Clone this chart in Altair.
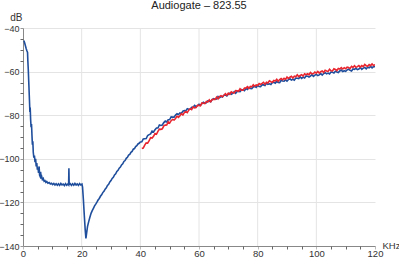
import altair as alt
import pandas as pd

# ---- data ----
blue_lo_x = [0.3, 0.5, 0.8, 1.1, 1.3, 1.55, 1.65, 1.8, 2.0, 2.2, 2.35, 2.45, 2.6, 2.75, 2.9, 3.05, 3.2, 3.35,
             3.5, 3.7, 3.9, 4.1, 4.3, 4.5, 4.7, 4.9, 5.1, 5.3, 5.5, 5.65, 5.8, 6.0, 6.2, 6.4, 6.6, 6.9, 7.2,
             7.5, 7.8, 8.1, 8.5, 8.9, 9.3, 9.7, 10.1, 10.5, 10.9, 11.3, 11.7, 12.1, 12.5, 12.9, 13.3, 13.7,
             14.1, 14.5, 14.9, 15.3, 15.55, 15.65, 15.75, 16.1, 16.5, 16.9, 17.3, 17.7, 18.1, 18.5, 18.9,
             19.3, 19.7, 20.1, 20.3, 20.6, 20.9, 21.2, 21.45, 21.7, 22.0, 22.4, 22.8, 23.2, 23.6, 24.0, 24.4,
             24.8, 25.2, 25.6, 26.0, 26.4, 26.8, 27.2, 27.6, 28.0, 28.4, 28.8, 29.2, 29.6, 30.0, 30.4, 30.8,
             31.2, 31.6, 32.0, 32.4, 32.8, 33.2, 33.6, 34.0, 34.4, 34.8, 35.2, 35.6, 36.0, 36.4, 36.8, 37.2,
             37.6, 38.0, 38.4, 38.8, 39.2, 39.6]
blue_lo_y = [-45.8, -46.5, -48.0, -49.5, -50.3, -51.2, -55.0, -59.0, -66.0, -73.0, -78.5, -76.5, -82.0, -85.5,
             -84.0, -89.0, -93.5, -92.0, -97.0, -99.5, -98.5, -101.5, -100.0, -103.5, -102.0, -105.0, -104.0,
             -106.5, -103.5, -107.5, -108.0, -106.0, -109.0, -108.3, -109.5, -109.0, -110.3, -110.0, -110.8,
             -110.4, -111.2, -110.9, -111.5, -111.2, -111.8, -111.3, -112.0, -111.4, -112.1, -111.5, -112.2,
             -111.3, -112.0, -111.6, -112.3, -111.4, -112.1, -111.5, -111.9, -104.3, -111.8, -111.4, -112.2,
             -111.5, -112.1, -111.3, -112.0, -111.5, -112.2, -111.4, -112.0, -111.6, -113.0, -119.0, -126.0,
             -132.5, -136.5, -134.0, -131.0, -128.8, -126.8, -125.0, -123.8, -122.7, -121.6, -120.8, -119.9,
             -118.9, -118.2, -117.2, -116.5, -115.5, -114.9, -113.9, -113.3, -112.2, -111.7, -110.6, -110.0,
             -109.0, -108.5, -107.4, -106.9, -105.8, -105.3, -104.3, -103.8, -102.8, -102.3, -101.2, -100.8,
             -99.8, -99.3, -98.3, -98.0, -97.0, -96.6, -95.6, -95.3, -94.4, -94.0, -93.2, -92.9]

# 40 .. 120 kHz, every 0.5 kHz
blue_hi_y = [-92.3, -92.2, -90.9, -90.8, -90.7, -89.3, -88.9, -88.6, -87.3, -87.7, -86.7, -85.9, -85.9, -84.5,
             -84.7, -84.5, -83.4, -82.7, -83.1, -82.1,
             -82.0, -80.8, -80.9, -80.9, -79.9, -79.35, -79.7, -78.95, -79.2, -78.1, -77.9, -78.0, -77.0, -77.3,
             -77.3, -76.35, -76.4, -75.5, -76.1, -75.65,
             -75.0, -75.45, -74.7, -74.05, -74.5, -74.35, -73.4, -73.55, -73.8, -72.85, -72.4, -72.65, -72.6,
             -71.45, -72.0, -71.45, -71.7, -70.8, -70.7, -71.2,
             -70.4, -69.9, -70.4, -70.0, -69.2, -69.9, -69.1, -69.1, -69.2, -68.3, -68.4, -68.8, -67.8, -68.15,
             -67.3, -67.7, -67.8, -67.05, -66.8, -67.25,
             -66.4, -66.85, -66.9, -66.05, -66.1, -66.35, -65.4, -65.85, -65.6, -65.95, -65.0, -64.95, -65.3,
             -64.5, -65.0, -65.05, -64.0, -64.35, -64.4, -63.8,
             -64.4, -63.65, -63.3, -63.9, -63.5, -63.9, -63.0, -63.05, -63.2, -62.4, -63.1, -62.55, -62.9, -62.0,
             -62.1, -62.5, -62.1, -61.45, -62.2, -61.6,
             -61.3, -61.8, -61.5, -60.9, -61.6, -60.9, -60.5, -61.05, -60.7, -61.1, -60.2, -60.3, -60.6, -59.8,
             -60.2, -60.4, -59.7, -59.3, -60.0, -59.6,
             -59.9, -59.2, -58.9, -59.45, -59.7, -58.8, -59.0, -58.5, -59.1, -58.8, -58.1, -58.95, -58.4, -58.1,
             -58.7, -58.0, -58.3, -57.65, -58.3, -57.7, -57.8]
blue_hi_x = [40 + 0.5 * i for i in range(len(blue_hi_y))]

# 40.5 .. 120 kHz, every 0.5 kHz
red_y = [-95.2, -95.1, -93.7, -92.7, -92.85, -91.7, -90.35, -90.5, -89.7, -88.4, -88.75, -87.4, -86.4, -86.5,
         -86.25, -84.9, -84.55, -84.5, -83.0,
         -83.6, -82.5, -81.9, -82.2, -81.5, -80.45, -81.0, -80.3, -79.3, -79.9, -78.8, -78.3, -78.8, -77.7,
         -77.0, -77.4, -76.2, -76.65, -76.5, -75.5,
         -75.5, -75.7, -74.4, -74.5, -74.7, -73.75, -74.0, -72.95, -73.8, -72.8, -72.7, -72.75, -71.7, -72.55,
         -71.5, -71.05, -71.5, -70.85, -70.1, -70.85,
         -69.9, -70.4, -69.3, -69.65, -69.8, -68.7, -68.8, -69.0, -67.9, -68.5, -68.5, -67.55, -67.6, -66.9,
         -67.7, -66.8, -67.0, -66.0, -66.7, -66.1,
         -66.4, -65.45, -65.9, -65.45, -64.9, -65.75, -64.9, -65.25, -64.2, -64.65, -64.9, -64.05, -64.3,
         -63.55, -64.4, -63.65, -63.2, -63.75, -63.1, -63.55,
         -62.5, -63.15, -62.6, -62.15, -62.9, -62.1, -62.4, -61.45, -62.3, -61.8, -61.4, -62.05, -61.0, -61.4,
         -61.0, -61.45, -60.4, -61.0, -61.0, -60.2,
         -60.7, -59.9, -60.7, -60.05, -59.7, -60.4, -59.4, -59.7, -59.9, -58.9, -59.6, -59.7, -58.7, -59.0,
         -59.5, -58.55, -58.8, -58.2, -58.8, -58.2,
         -58.7, -57.95, -58.1, -58.6, -57.6, -58.1, -57.3, -58.05, -57.7, -57.2, -57.9, -57.25, -57.7, -56.7,
         -57.3, -57.55, -56.8, -57.25, -56.5, -57.2, -56.8]
red_x = [40.5 + 0.5 * i for i in range(len(red_y))]

x_major = [0, 20, 40, 60, 80, 100, 120]
x_minor = [v for v in range(0, 121, 5) if v % 20 != 0]
x_grid = [20, 40, 60, 80, 100]
y_major = [-140, -120, -100, -80, -60, -40]
y_minor = [v for v in range(-140, -39, 5) if v % 20 != 0]

blue = pd.DataFrame({"f": blue_lo_x + blue_hi_x, "db": blue_lo_y + blue_hi_y})
red = pd.DataFrame({"f": red_x, "db": red_y})

FONT = "Liberation Sans"
xs = alt.Scale(domain=[0, 120], nice=False, zero=False)
ys = alt.Scale(domain=[-140, -40], nice=False, zero=False)

grid = alt.Chart(pd.DataFrame({"g": x_grid})).mark_rule(color="#e4e4e4", strokeWidth=1).encode(
    x=alt.X("g:Q", scale=xs, axis=None)
)

minor_x = alt.Chart(pd.DataFrame({"m": x_minor})).mark_point(opacity=0).encode(
    x=alt.X("m:Q", scale=xs, axis=alt.Axis(orient="bottom", values=x_minor, labels=False, domain=False,
                                             grid=False, ticks=True, tickSize=3, tickColor="#666", title=None)),
)
minor_y = alt.Chart(pd.DataFrame({"m": y_minor})).mark_point(opacity=0).encode(
    y=alt.Y("m:Q", scale=ys, axis=alt.Axis(orient="left", values=y_minor, labels=False, domain=False,
                                             grid=False, ticks=True, tickSize=3, tickColor="#666", title=None)),
)

def line(df, color):
    return alt.Chart(df).mark_line(color=color, strokeWidth=1.6, clip=True).encode(
        x=alt.X("f:Q", scale=xs,
                axis=alt.Axis(values=x_major, format="d", grid=False, tickSize=3, tickColor="#bbb",
                              domainColor="#888", labelFont=FONT, labelFontSize=9.5, labelColor="#333",
                              labelPadding=-1, labelFlush=False, title="KHz", titleFont=FONT,
                              titleFontSize=9.5, titleFontWeight="normal", titleColor="#333", titleAngle=0,
                              titleAlign="left", titleBaseline="middle", titleX=359, titleY=-1)),
        y=alt.Y("db:Q", scale=ys,
                axis=alt.Axis(values=y_major, format="d", grid=True, gridColor="#e4e4e4", tickSize=3,
                              tickColor="#999", domainColor="#888", labelFont=FONT, labelFontSize=9,
                              labelColor="#333", labelPadding=1, labelFlush=False, title="dB", titleFont=FONT,
                              titleFontSize=10, titleFontWeight="normal", titleColor="#333", titleAngle=0,
                              titleAlign="right", titleBaseline="alphabetic", titleX=-1, titleY=-8)),
        order=alt.Order("f:Q"),
    )

main = alt.layer(line(blue, "#1f4e9c"), line(red, "#e8262f"))

chart = alt.layer(grid, main, minor_x, minor_y).resolve_axis(x="independent", y="independent").properties(
    width=352, height=218,
    title=alt.TitleParams("Audiogate – 823.55", font=FONT, fontSize=11, fontWeight="normal", color="#222",
                          anchor="middle", offset=1),
    autosize="none",
    padding={"left": 23, "top": 28, "right": 24, "bottom": 11},
).configure_view(stroke=None)

chart.save("out.html", embed_options={"renderer": "svg", "actions": False})
